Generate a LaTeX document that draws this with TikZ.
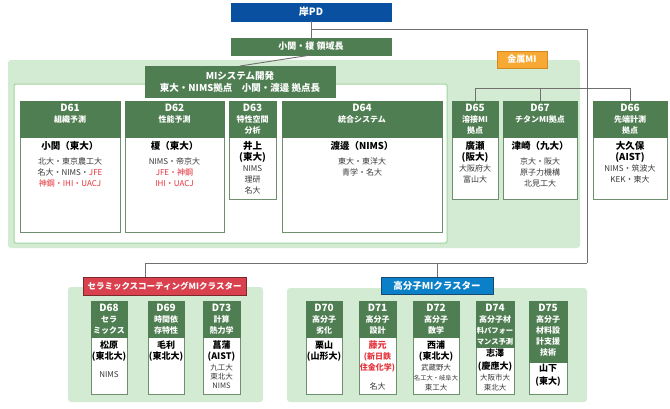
\documentclass[tikz,border=0pt]{standalone}
\usepackage{fontspec}
\setmainfont{Noto Sans CJK JP}
\definecolor{pdblue}{HTML}{0A50A1}
\definecolor{hgreen}{HTML}{4F7E52}
\definecolor{lgreen}{HTML}{D3EBD2}
\definecolor{wborder}{HTML}{9FD49F}
\definecolor{bborder}{HTML}{6F8F6F}
\definecolor{orangeMI}{HTML}{F8A933}
\definecolor{orangeB}{HTML}{D08A20}
\definecolor{redcl}{HTML}{D9414E}
\definecolor{redclB}{HTML}{7A2A2A}
\definecolor{bluecl}{HTML}{0A80C8}
\definecolor{blueclB}{HTML}{1A4A70}
\definecolor{lgray}{HTML}{707070}
\definecolor{affgray}{HTML}{383838}
\definecolor{redtxt}{HTML}{E5323B}
\newcommand{\rt}[1]{\textcolor{redtxt}{#1}}
\newcommand{\nm}{\fontsize{9.5}{11}\selectfont\bfseries\color{black}}
\newcommand{\nmS}{\fontsize{9}{11}\selectfont\bfseries\color{black}}
\newcommand{\rb}{\fontsize{8}{11}\selectfont\bfseries\color{redtxt}}
\newcommand{\smf}{\fontsize{7.5}{9}\selectfont}
\newcommand{\Dn}{\fontsize{10}{11}\selectfont}
\tikzset{
  hdr/.style={fill=hgreen, draw=hgreen, line width=0.5pt, inner sep=0pt, outer sep=0pt},
  hdrtxt/.style={text=white, font=\fontsize{8}{11}\selectfont\bfseries, align=center, inner sep=0pt},
  bodyb/.style={fill=white, draw=bborder, line width=0.7pt, inner sep=0pt, outer sep=0pt},
  bodytxt/.style={text=affgray, font=\fontsize{8}{11}\selectfont, align=center, inner sep=0pt},
  conn/.style={draw=lgray, line width=0.9pt},
  grp/.style={fill=lgreen, draw=none, rounded corners=3pt, inner sep=0pt, outer sep=0pt},
  lab/.style={text=white, font=\fontsize{9}{12}\selectfont\bfseries, align=center, inner sep=0pt, outer sep=0pt, line width=0.6pt},
}
\newcommand{\dbox}[9]{%
  \node[bodyb, minimum width={#3pt-#2pt}, minimum height={#6pt-#5pt}] (#1b) at ({(#2+#3)/2},{(#5+#6)/2}) {};
  \node[hdr, minimum width={#3pt-#2pt}, minimum height={#5pt-#4pt}] (#1h) at ({(#2+#3)/2},{(#4+#5)/2}) {};
  \node[hdrtxt, anchor=north] (#1ht) at ([yshift=-3pt]#1h.north) {#7};
  \node[bodytxt, anchor=north] (#1bt) at ([yshift=-#9pt]#1b.north) {#8};
}
\begin{document}
\begin{tikzpicture}[x=1pt,y=-1pt]
\useasboundingbox (0,0) rectangle (670,408);
% groups
\node[grp, minimum width=572pt, minimum height=188pt] (metal) at (294,154) {};
\node[fill=white, draw=wborder, line width=1pt, rounded corners=2pt, inner sep=0pt, minimum width=433pt, minimum height=159pt] (mig) at (230.5,163.5) {};
\node[grp, minimum width=195pt, minimum height=115pt] (cerg) at (165.5,344.5) {};
\node[grp, minimum width=300pt, minimum height=114pt] (polg) at (437,345) {};
% top boxes
\node[lab, fill=pdblue, draw=pdblue, minimum width=160pt, minimum height=18pt, font=\fontsize{10}{12}\selectfont\bfseries] (pd) at (311,12) {岸PD};
\node[lab, fill=hgreen, draw=hgreen, minimum width=160pt, minimum height=17pt] (rc) at (311,46.5) {小関・榎 領域長};
\node[lab, fill=hgreen, draw=hgreen, minimum width=190pt, minimum height=31pt, font=\fontsize{9.5}{12}\selectfont\bfseries] (mi) at (240,81.5) {MIシステム開発\\東大・NIMS拠点　小関・渡邊 拠点長};
\node[lab, fill=orangeMI, draw=orangeB, minimum width=50pt, minimum height=17pt] (kin) at (522,59.5) {金属MI};
\node[lab, fill=redcl, draw=redclB, minimum width=163pt, minimum height=18pt, font=\fontsize{8.5}{12}\selectfont\bfseries] (cer) at (164.5,286) {セラミックスコーティングMIクラスター};
\node[lab, fill=bluecl, draw=blueclB, minimum width=112pt, minimum height=17pt, font=\fontsize{9.5}{12}\selectfont\bfseries] (pol) at (437,285.5) {高分子MIクラスター};
% connectors
\coordinate (yb) at (0,29);
\coordinate (lv) at (587,29);
\coordinate (lb) at (587,263);
\coordinate (cerj) at (145,277);
\coordinate (bar) at (0,88);
\draw[conn] (pd.south) -- (rc.north);
\draw[conn] (pd.south |- yb) -- (lv) -- (lb);
\draw[conn] (rc.south) -- (mi.north);
\draw[conn] (lb) -| (cerj);
\draw[conn] (pol.north) -- (pol.north |- lb);
% D boxes
\dbox{d61}{20}{120}{101}{137}{232}{{\Dn D61}\\組織予測}{{\nm 小関（東大）}\\[4pt]北大・東京農工大\\名大・NIMS・\rt{JFE}\\\rt{神鋼・IHI・UACJ}}{4}
\dbox{d62}{125}{224}{101}{137}{232}{{\Dn D62}\\性能予測}{{\nm 榎（東大）}\\[4pt]NIMS・帝京大\\\rt{JFE・神鋼}\\\rt{IHI・UACJ}}{4}
\dbox{d63}{229}{276}{101}{137}{199}{{\Dn D63}\\特性空間\\分析}{{\nm 井上}\\{\nm (東大)}\\NIMS\\理研\\名大}{4}
\dbox{d64}{282}{442}{101}{137}{232}{{\Dn D64}\\統合システム}{{\nm 渡邊（NIMS）}\\[4pt]東大・東洋大\\青学・名大}{4}
\dbox{d65}{452}{498}{101}{137}{199}{{\Dn D65}\\溶接MI\\拠点}{{\nm 廣瀬}\\{\nm (阪大)}\\大阪府大\\富山大}{4}
\dbox{d67}{503}{577}{101}{137}{199}{{\Dn D67}\\チタンMI拠点}{{\nm 津崎（九大）}\\[4pt]京大・阪大\\原子力機構\\北見工大}{4}
\dbox{d66}{593}{667}{101}{137}{199}{{\Dn D66}\\先端計測\\拠点}{{\nm 大久保}\\{\nm (AIST)}\\NIMS・筑波大\\KEK・東大}{4}
\draw[conn] (d65h.north) |- (d66h.north |- bar) -- (d66h.north);
\draw[conn] (d67h.north) -- (d67h.north |- bar);
\dbox{d68}{91}{127}{301}{337}{394}{{\Dn D68}\\セラ\\ミックス}{{\nmS 松原}\\{\nmS (東北大)}\\[7pt]NIMS}{4}
\dbox{d69}{148}{184}{301}{337}{394}{{\Dn D69}\\時間依\\存特性}{{\nmS 毛利}\\{\nmS (東北大)}}{4}
\dbox{d73}{203}{240}{301}{337}{394}{{\Dn D73}\\計算\\熱力学}{{\nmS 菖蒲}\\{\nmS (AIST)}\\{\smf 九工大}\\[-2pt]{\smf 東北大}\\[-2pt]{\smf NIMS}}{4}
\dbox{d70}{306}{342}{301}{337}{394}{{\Dn D70}\\高分子\\劣化}{{\nmS 栗山}\\{\nmS (山形大)}}{4}
\dbox{d71}{359}{396}{301}{337}{394}{{\Dn D71}\\高分子\\設計}{{\nmS\color{redtxt}藤元}\\{\rb (新日鉄}\\{\rb 住金化学)}\\[8pt]名大}{4}
\dbox{d72}{413}{459}{301}{337}{394}{{\Dn D72}\\高分子\\数学}{{\nmS 西浦}\\{\nmS (東北大)}\\{\smf 武蔵野大}\\[-1pt]{\fontsize{6.3}{9}\selectfont 名工大・岐阜大}\\[-1pt]{\smf 東工大}}{4}
\dbox{d74}{476}{514}{301}{347}{394}{{\Dn D74}\\高分子材\\{\fontsize{7.3}{11}\selectfont 料パフォー}\\{\fontsize{7.3}{11}\selectfont マンス予測}}{{\nmS 志澤}\\[2pt]{\nmS (慶應大)}\\{\smf 大阪市大}\\[-1pt]{\smf 東北大}}{2}
\dbox{d75}{529}{567}{301}{362}{394}{{\Dn D75}\\高分子\\材料設\\計支援\\技術}{{\nmS 山下}\\[2pt]{\nmS (東大)}}{2}
\end{tikzpicture}
\end{document}
